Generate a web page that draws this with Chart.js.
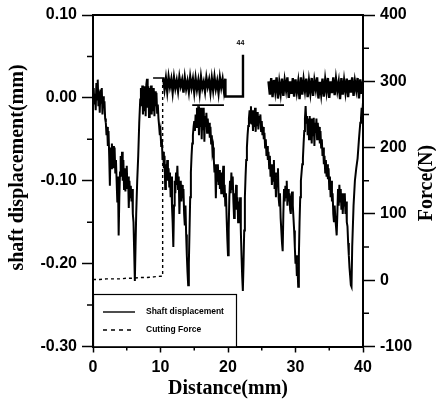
<!DOCTYPE html>
<html>
<head>
<meta charset="utf-8">
<script src="https://cdn.jsdelivr.net/npm/chart.js@4.4.1/dist/chart.umd.min.js"></script>
<style>
  body { margin: 0; background: #fff; }
  #wrap { width: 436px; height: 408px; }
</style>
</head>
<body>
<div id="wrap"><canvas id="chart" width="436" height="408"></canvas></div>
<script>
// values: [distance mm, value]
var seriesNames = ["Shaft displacement", "Cutting Force"];
var xTitle = "Distance(mm)";
var yTitle = "shaft displacement(mm)";
var y1Title = "Force(N)";
var note = "44";

var shaftDisp = [
  [0.0,-0.004],[0.1,0.012],[0.2,-0.008],[0.3,0.005],[0.4,-0.015],[0.5,0.018],[0.6,-0.002],[0.7,0.022],
  [0.8,-0.010],[0.9,0.008],[1.0,-0.018],[1.1,0.010],[1.2,-0.006],[1.3,0.012],[1.4,-0.020],[1.5,0.002],
  [1.6,-0.012],[1.7,-0.004],[1.8,-0.025],[1.9,-0.030],[2.0,-0.045],[2.1,-0.035],[2.2,-0.058],[2.3,-0.040],
  [2.4,-0.070],[2.5,-0.106],[2.6,-0.060],[2.7,-0.085],[2.8,-0.055],[2.9,-0.080],[3.0,-0.058],[3.1,-0.085],
  [3.2,-0.060],[3.3,-0.090],[3.4,-0.075],[3.5,-0.100],[3.6,-0.125],[3.7,-0.095],[3.8,-0.166],[3.9,-0.120],
  [4.0,-0.090],[4.1,-0.070],[4.2,-0.095],[4.3,-0.065],[4.4,-0.100],[4.5,-0.075],[4.6,-0.110],[4.7,-0.085],
  [4.8,-0.113],[4.9,-0.090],[5.0,-0.082],[5.1,-0.110],[5.2,-0.095],[5.3,-0.133],[5.4,-0.100],[5.5,-0.120],
  [5.6,-0.106],[5.7,-0.125],[5.8,-0.110],[5.9,-0.140],[6.0,-0.150],[6.1,-0.185],[6.2,-0.221],[6.3,-0.180],
  [6.4,-0.140],[6.55,-0.100],[6.7,-0.070],[6.85,-0.030],[7.0,-0.002],[7.1,0.012],[7.2,-0.010],[7.3,0.015],
  [7.4,-0.020],[7.5,0.010],[7.6,-0.015],[7.7,0.014],[7.8,-0.022],[7.9,0.016],[8.0,0.023],[8.1,-0.012],
  [8.2,0.014],[8.3,-0.023],[8.4,0.012],[8.5,-0.008],[8.6,0.015],[8.7,-0.020],[8.8,0.010],[8.9,-0.015],
  [9.0,0.012],[9.1,-0.022],[9.2,0.008],[9.3,-0.010],[9.4,0.006],[9.5,-0.018],[9.6,-0.008],[9.7,-0.025],
  [9.8,-0.034],[9.9,-0.045],[10.0,-0.040],[10.1,-0.058],[10.2,-0.050],[10.3,-0.075],[10.4,-0.065],[10.5,-0.085],
  [10.6,-0.070],[10.7,-0.110],[10.8,-0.080],[10.9,-0.095],[11.0,-0.075],[11.1,-0.100],[11.2,-0.085],[11.3,-0.107],
  [11.4,-0.090],[11.5,-0.120],[11.6,-0.095],[11.7,-0.130],[11.8,-0.150],[11.9,-0.180],[12.0,-0.130],[12.1,-0.100],
  [12.2,-0.115],[12.3,-0.090],[12.4,-0.105],[12.5,-0.082],[12.6,-0.110],[12.7,-0.095],[12.8,-0.140],[12.9,-0.110],
  [13.0,-0.100],[13.1,-0.125],[13.2,-0.105],[13.3,-0.121],[13.4,-0.110],[13.5,-0.140],[13.6,-0.154],[13.7,-0.130],
  [13.8,-0.165],[13.9,-0.190],[14.0,-0.210],[14.1,-0.226],[14.2,-0.200],[14.3,-0.160],[14.4,-0.120],[14.5,-0.090],
  [14.6,-0.070],[14.7,-0.055],[14.8,-0.045],[14.9,-0.035],[15.0,-0.028],[15.1,-0.040],[15.2,-0.020],[15.3,-0.035],
  [15.4,-0.012],[15.5,-0.030],[15.6,-0.010],[15.7,-0.045],[15.8,-0.015],[15.9,-0.035],[16.0,-0.012],[16.1,-0.050],
  [16.2,-0.020],[16.3,-0.038],[16.4,-0.012],[16.5,-0.053],[16.6,-0.022],[16.7,-0.035],[16.8,-0.018],[16.9,-0.042],
  [17.0,-0.025],[17.1,-0.040],[17.2,-0.030],[17.3,-0.048],[17.4,-0.035],[17.5,-0.055],[17.6,-0.045],[17.7,-0.065],
  [17.8,-0.060],[17.9,-0.075],[18.0,-0.090],[18.1,-0.080],[18.2,-0.121],[18.3,-0.085],[18.4,-0.100],[18.5,-0.080],
  [18.6,-0.105],[18.7,-0.087],[18.8,-0.110],[18.9,-0.095],[19.0,-0.115],[19.1,-0.090],[19.2,-0.100],[19.3,-0.082],
  [19.4,-0.120],[19.5,-0.105],[19.6,-0.130],[19.7,-0.115],[19.8,-0.145],[19.9,-0.170],[20.0,-0.190],[20.1,-0.160],
  [20.2,-0.120],[20.3,-0.100],[20.4,-0.115],[20.5,-0.090],[20.6,-0.110],[20.7,-0.095],[20.8,-0.125],[20.9,-0.145],
  [21.0,-0.115],[21.1,-0.130],[21.2,-0.105],[21.3,-0.135],[21.4,-0.120],[21.5,-0.150],[21.6,-0.125],[21.7,-0.140],
  [21.8,-0.120],[21.9,-0.160],[22.0,-0.190],[22.1,-0.215],[22.2,-0.233],[22.3,-0.200],[22.4,-0.160],[22.5,-0.120],
  [22.6,-0.095],[22.7,-0.075],[22.8,-0.060],[22.9,-0.045],[23.0,-0.034],[23.1,-0.025],[23.2,-0.015],[23.3,-0.030],
  [23.4,-0.010],[23.5,-0.032],[23.6,-0.015],[23.7,-0.040],[23.8,-0.018],[23.9,-0.035],[24.0,-0.012],[24.1,-0.041],
  [24.2,-0.020],[24.3,-0.033],[24.4,-0.017],[24.5,-0.038],[24.6,-0.022],[24.7,-0.030],[24.8,-0.020],[24.9,-0.040],
  [25.0,-0.028],[25.1,-0.045],[25.2,-0.035],[25.3,-0.050],[25.4,-0.042],[25.5,-0.060],[25.6,-0.050],[25.7,-0.070],
  [25.8,-0.058],[25.9,-0.075],[26.0,-0.065],[26.1,-0.085],[26.2,-0.070],[26.3,-0.095],[26.4,-0.080],[26.5,-0.105],
  [26.6,-0.085],[26.7,-0.100],[26.8,-0.075],[26.9,-0.110],[27.0,-0.090],[27.1,-0.120],[27.2,-0.100],[27.3,-0.106],
  [27.4,-0.085],[27.5,-0.120],[27.6,-0.130],[27.7,-0.115],[27.8,-0.145],[27.9,-0.160],[28.0,-0.175],[28.1,-0.185],
  [28.2,-0.140],[28.3,-0.110],[28.4,-0.125],[28.5,-0.106],[28.6,-0.120],[28.7,-0.100],[28.8,-0.130],[28.9,-0.110],
  [29.0,-0.125],[29.1,-0.115],[29.2,-0.135],[29.3,-0.140],[29.4,-0.120],[29.5,-0.113],[29.6,-0.130],[29.7,-0.145],
  [29.8,-0.160],[29.9,-0.180],[30.0,-0.200],[30.1,-0.190],[30.2,-0.215],[30.3,-0.205],[30.4,-0.228],[30.5,-0.190],
  [30.6,-0.150],[30.7,-0.120],[30.8,-0.100],[30.9,-0.090],[31.0,-0.080],[31.1,-0.073],[31.2,-0.055],[31.3,-0.040],
  [31.4,-0.025],[31.5,-0.010],[31.6,-0.030],[31.7,-0.022],[31.8,-0.045],[31.9,-0.025],[32.0,-0.050],[32.1,-0.022],
  [32.2,-0.040],[32.3,-0.025],[32.4,-0.055],[32.5,-0.028],[32.6,-0.045],[32.7,-0.024],[32.8,-0.058],[32.9,-0.030],
  [33.0,-0.042],[33.1,-0.025],[33.2,-0.050],[33.3,-0.030],[33.4,-0.045],[33.5,-0.035],[33.6,-0.055],[33.7,-0.040],
  [33.8,-0.060],[33.9,-0.050],[34.0,-0.070],[34.1,-0.060],[34.2,-0.080],[34.3,-0.070],[34.4,-0.090],[34.5,-0.075],
  [34.6,-0.095],[34.7,-0.080],[34.8,-0.098],[34.9,-0.085],[35.0,-0.110],[35.1,-0.095],[35.2,-0.120],[35.3,-0.100],
  [35.4,-0.125],[35.5,-0.115],[35.6,-0.140],[35.7,-0.150],[35.8,-0.130],[35.9,-0.145],[36.0,-0.155],[36.1,-0.166],
  [36.2,-0.140],[36.3,-0.110],[36.4,-0.130],[36.5,-0.105],[36.6,-0.125],[36.7,-0.110],[36.8,-0.135],[36.9,-0.115],
  [37.0,-0.140],[37.1,-0.120],[37.2,-0.130],[37.3,-0.115],[37.4,-0.140],[37.5,-0.125],[37.6,-0.150],[37.7,-0.155],
  [37.8,-0.175],[37.9,-0.190],[38.0,-0.205],[38.1,-0.215],[38.2,-0.226],[38.3,-0.228],[38.4,-0.180],[38.6,-0.130],
  [38.8,-0.100],[39.0,-0.085],[39.2,-0.073],[39.4,-0.050],[39.6,-0.030],[39.7,-0.025],[39.8,-0.012],[39.9,-0.020],
  [40.0,-0.005]
];

var cuttingForce = [
  [0,1],[1,1],[2,2],[3,2],[4,2],[5,3],[6,3],[7,4],[8,4],[9,5],[10,6],[10.3,6],[10.32,300],
  [10.4,305],[10.6,288],[10.8,304],[11.0,285],[11.2,306],[11.4,292],[11.6,303],[11.8,284],[12.0,305],[12.2,290],
  [12.4,301],[12.6,286],[12.8,306],[13.0,293],[13.2,302],[13.4,283],[13.6,305],[13.8,289],[14.0,300],[14.2,285],
  [14.4,306],[14.6,291],[14.8,303],[15.0,284],[15.2,304],[15.4,288],[15.6,301],[15.8,283],[16.0,306],[16.2,290],
  [16.4,299],[16.6,285],[16.8,305],[17.0,292],[17.2,302],[17.4,284],[17.6,304],[17.8,287],[18.0,306],[18.2,289],
  [18.4,300],[18.6,283],[18.8,305],[19.0,291],[19.2,303],[19.4,286],[19.6,304],
  [19.62,277],[22.2,277],[22.22,340],[22.3,null],
  [26.0,300],[26.2,280],[26.4,305],[26.6,276],[26.8,302],[27.0,285],[27.2,306],[27.4,274],[27.6,298],[27.8,282],
  [28.0,304],[28.2,278],[28.4,301],[28.6,287],[28.8,306],[29.0,275],[29.2,300],[29.4,281],[29.6,305],[29.8,277],
  [30.0,303],[30.2,284],[30.4,299],[30.6,273],[30.8,306],[31.0,280],[31.2,302],[31.4,286],[31.6,304],[31.8,276],
  [32.0,300],[32.2,283],[32.4,305],[32.6,278],[32.8,301],[33.0,288],[33.2,306],[33.4,274],[33.6,299],[33.8,281],
  [34.0,304],[34.2,277],[34.4,302],[34.6,285],[34.8,305],[35.0,275],[35.2,300],[35.4,282],[35.6,306],[35.8,279],
  [36.0,303],[36.2,286],[36.4,299],[36.6,273],[36.8,305],[37.0,280],[37.2,301],[37.4,284],[37.6,304],[37.8,276],
  [38.0,302],[38.2,283],[38.4,306],[38.6,278],[38.8,300],[39.0,287],[39.2,305],[39.4,274],[39.6,303],[39.8,281],
  [40.0,300]
];

// short flat strokes on the force scale
var forceMarks = [[8.9,305],[10.6,305],[10.7,null],[14.7,264],[19.4,264],[19.5,null],[26.0,264],[28.3,264]];

var xTicks = [0, 10, 20, 30, 40];
var yTicks = [-0.30, -0.20, -0.10, 0.00, 0.10];
var y1Ticks = [-100, 0, 100, 200, 300, 400];

var tickFont = { family: "'Liberation Sans', Arial, sans-serif", size: 16, weight: "bold" };

function fixedTicks(list) {
  return function (scale) {
    scale.ticks = list.map(function (v) { return { value: v }; });
  };
}

// minor ticks, frame top, legend box, axis titles
var extras = {
  id: "extras",
  afterDraw: function (chart) {
    var ctx = chart.ctx;
    var a = chart.chartArea;
    var sx = chart.scales.x, sy = chart.scales.y, sy1 = chart.scales.y1;
    ctx.save();
    ctx.strokeStyle = "#000";
    ctx.lineWidth = 2;
    ctx.beginPath();
    ctx.moveTo(a.left - 1, a.top);
    ctx.lineTo(a.right + 1, a.top);
    ctx.stroke();

    ctx.lineWidth = 1.5;
    ctx.beginPath();
    for (var i = 0; i < xTicks.length - 1; i++) {
      var px = sx.getPixelForValue((xTicks[i] + xTicks[i + 1]) / 2);
      ctx.moveTo(px, a.bottom);
      ctx.lineTo(px, a.bottom + 4);
    }
    for (i = 0; i < yTicks.length - 1; i++) {
      var py = sy.getPixelForValue((yTicks[i] + yTicks[i + 1]) / 2);
      ctx.moveTo(a.left, py);
      ctx.lineTo(a.left - 6, py);
    }
    for (i = 0; i < y1Ticks.length - 1; i++) {
      py = sy1.getPixelForValue((y1Ticks[i] + y1Ticks[i + 1]) / 2);
      ctx.moveTo(a.right, py);
      ctx.lineTo(a.right + 6, py);
    }
    ctx.stroke();

    // legend box
    var lx = a.left, ly = 294, lw = 143, lh = a.bottom - ly;
    ctx.fillStyle = "#fff";
    ctx.fillRect(lx + 1, ly, lw, lh);
    ctx.lineWidth = 1.2;
    ctx.strokeRect(lx + 0.5, ly + 0.5, lw, lh);
    var ds = chart.data.datasets;
    ctx.font = "bold 8.5px 'Liberation Sans', Arial, sans-serif";
    ctx.fillStyle = "#000";
    ctx.textBaseline = "middle";
    ctx.textAlign = "left";
    for (i = 0; i < 2; i++) {
      var yy = ly + 18 + i * 18;
      ctx.lineWidth = 1.4;
      ctx.setLineDash(i === 1 ? [4, 4] : []);
      ctx.beginPath();
      ctx.moveTo(lx + 10, yy);
      ctx.lineTo(lx + 42, yy);
      ctx.stroke();
      ctx.setLineDash([]);
      ctx.fillText(ds[i].label, lx + 53, yy);
    }

    // small note near the force spike
    ctx.font = "bold 7px 'Liberation Sans', Arial, sans-serif";
    ctx.textAlign = "center";
    ctx.fillText(note, sx.getPixelForValue(21.85), sy1.getPixelForValue(357));

    // axis titles
    ctx.font = "bold 20px 'Liberation Serif', 'Times New Roman', serif";
    ctx.textAlign = "center";
    ctx.textBaseline = "middle";
    ctx.fillText(xTitle, (a.left + a.right) / 2, 389);
    ctx.save();
    ctx.translate(17.5, 167.5);
    ctx.rotate(-Math.PI / 2);
    ctx.fillText(yTitle, 0, 0);
    ctx.restore();
    ctx.save();
    ctx.translate(427, 183);
    ctx.rotate(-Math.PI / 2);
    ctx.fillText(y1Title, 0, 0);
    ctx.restore();
    ctx.restore();
  }
};

new Chart(document.getElementById("chart"), {
  type: "line",
  data: {
    datasets: [
      {
        label: seriesNames[0],
        data: shaftDisp,
        yAxisID: "y",
        borderColor: "#000",
        borderWidth: 2,
        pointRadius: 0
      },
      {
        label: seriesNames[1],
        data: cuttingForce,
        yAxisID: "y1",
        borderColor: "#000",
        borderWidth: 2.4,
        pointRadius: 0,
        segment: {
          borderDash: function (c) { return c.p0.parsed.x < 10.35 ? [3, 3] : undefined; },
          borderWidth: function (c) { return c.p0.parsed.x < 10.35 ? 1.4 : undefined; }
        }
      },
      {
        label: "",
        data: forceMarks,
        yAxisID: "y1",
        borderColor: "#000",
        borderWidth: 1.6,
        pointRadius: 0
      }
    ]
  },
  options: {
    responsive: false,
    animation: false,
    events: [],
    layout: { padding: { top: 15, left: 0, right: 0, bottom: 0 } },
    plugins: { legend: { display: false }, tooltip: { enabled: false } },
    scales: {
      x: {
        type: "linear",
        min: 0, max: 40,
        afterBuildTicks: fixedTicks(xTicks),
        afterFit: function (s) { s.height = 61.5; },
        border: { display: true, color: "#000", width: 2 },
        grid: { drawOnChartArea: false, drawTicks: true, tickLength: 6, tickColor: "#000", tickWidth: 1.5 },
        ticks: { color: "#000", font: tickFont, padding: 5, maxRotation: 0 }
      },
      y: {
        type: "linear",
        position: "left",
        min: -0.3, max: 0.1,
        afterBuildTicks: fixedTicks(yTicks),
        afterFit: function (s) { s.width = 93; },
        border: { display: true, color: "#000", width: 2 },
        grid: { drawOnChartArea: false, drawTicks: true, tickLength: 11, tickColor: "#000", tickWidth: 1.5 },
        ticks: {
          color: "#000", font: tickFont, padding: 5,
          callback: function (v) { return v.toFixed(2); }
        }
      },
      y1: {
        type: "linear",
        position: "right",
        min: -100, max: 400,
        afterBuildTicks: fixedTicks(y1Ticks),
        afterFit: function (s) { s.width = 73; },
        border: { display: true, color: "#000", width: 2 },
        grid: { drawOnChartArea: false, drawTicks: true, tickLength: 12, tickColor: "#000", tickWidth: 1.5 },
        ticks: { color: "#000", font: tickFont, padding: 5 }
      }
    }
  },
  plugins: [extras]
});
</script>
</body>
</html>
